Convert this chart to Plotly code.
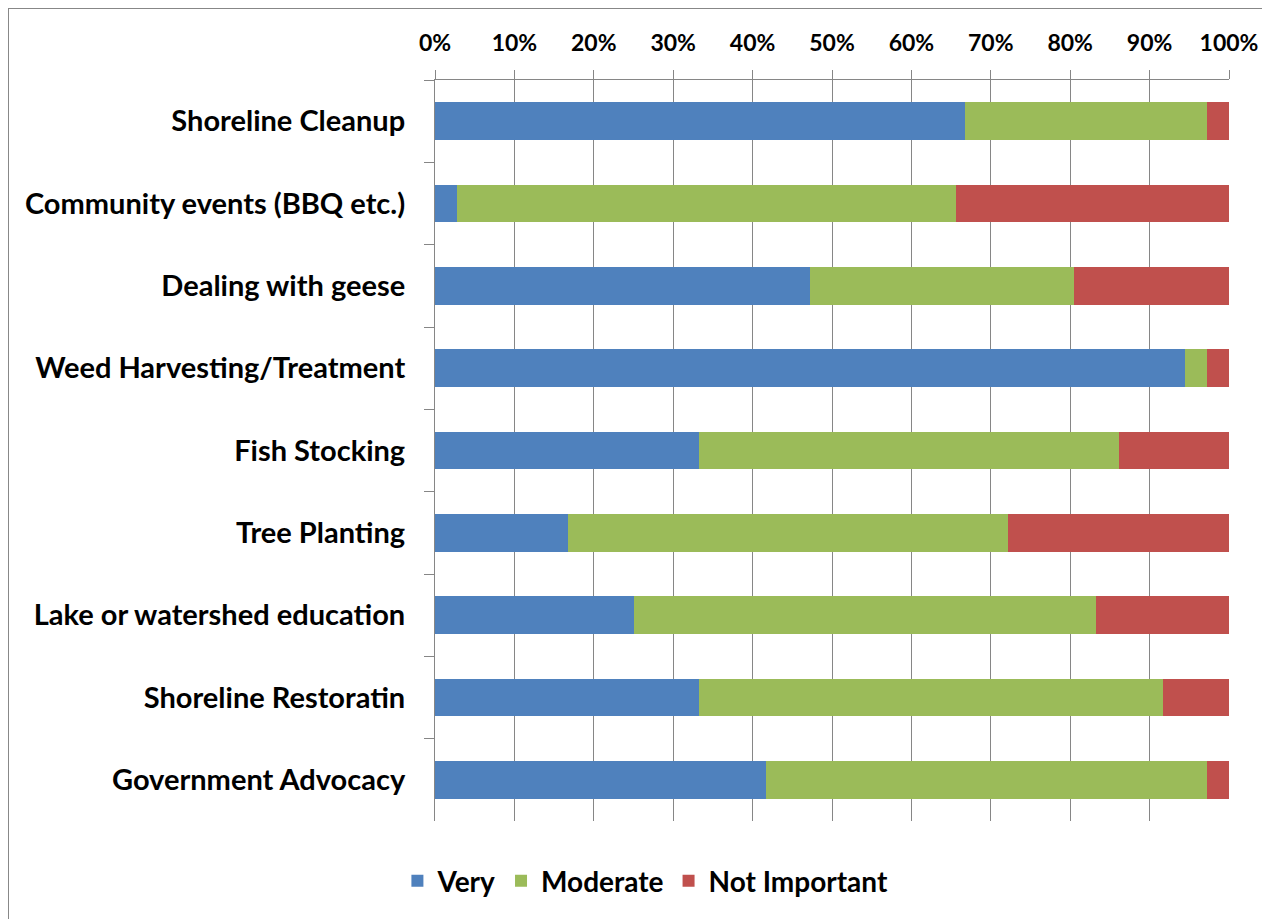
import plotly.graph_objects as go

categories = ["Shoreline Cleanup", "Community events (BBQ etc.)", "Dealing with geese",
              "Weed Harvesting/Treatment", "Fish Stocking", "Tree Planting",
              "Lake or watershed education", "Shoreline Restoratin", "Government Advocacy"]
very = [66.7, 2.8, 47.2, 94.4, 33.3, 16.7, 25.0, 33.3, 41.7]
moderate = [30.5, 62.8, 33.3, 2.8, 52.8, 55.5, 58.3, 58.4, 55.5]
not_important = [2.8, 34.4, 19.5, 2.8, 13.9, 27.8, 16.7, 8.3, 2.8]

series = [("Very", very, "#4F81BD"), ("Moderate", moderate, "#9BBB59"),
          ("Not Important", not_important, "#C0504D")]

fig = go.Figure()
for name, vals, col in series:
    fig.add_trace(go.Bar(y=categories, x=vals, name=name, orientation="h",
                         marker=dict(color=col, line=dict(width=0))))

font_family = "Lato, Calibri, sans-serif"
fig.update_layout(
    barmode="stack", bargap=0.54,
    width=1270, height=919,
    margin=dict(l=427, r=49, t=72, b=106, autoexpand=False),
    paper_bgcolor="white", plot_bgcolor="white",
    font=dict(family=font_family, size=20, color="black"),
    legend=dict(orientation="h", x=0.265, xanchor="center", y=-0.081, yanchor="middle",
                font=dict(size=28, family=font_family, weight="bold"), traceorder="normal",
                itemwidth=30),
    shapes=[dict(type="rect", xref="paper", yref="paper", x0=-0.5378, x1=1.2,
                 y0=-0.2, y1=1.0972, line=dict(color="#878787", width=2),
                 fillcolor="rgba(0,0,0,0)", layer="below")],
)
fig.update_xaxes(side="top", range=[0, 100], dtick=10, ticksuffix="%",
                 showgrid=True, gridcolor="#868686", gridwidth=1,
                 ticks="outside", ticklen=9, tickcolor="#868686",
                 showline=True, linecolor="#868686", linewidth=1,
                 tickfont=dict(size=23, family=font_family, weight="bold"),
                 ticklabelstandoff=10, zeroline=False)
fig.update_yaxes(autorange="reversed", ticks="outside", tickson="boundaries",
                 ticklen=10, tickcolor="#868686", showline=True, linecolor="#868686",
                 linewidth=1, tickfont=dict(size=29, family=font_family, weight="bold"),
                 ticklabelstandoff=23, showgrid=False)
fig.write_html("out.html")
